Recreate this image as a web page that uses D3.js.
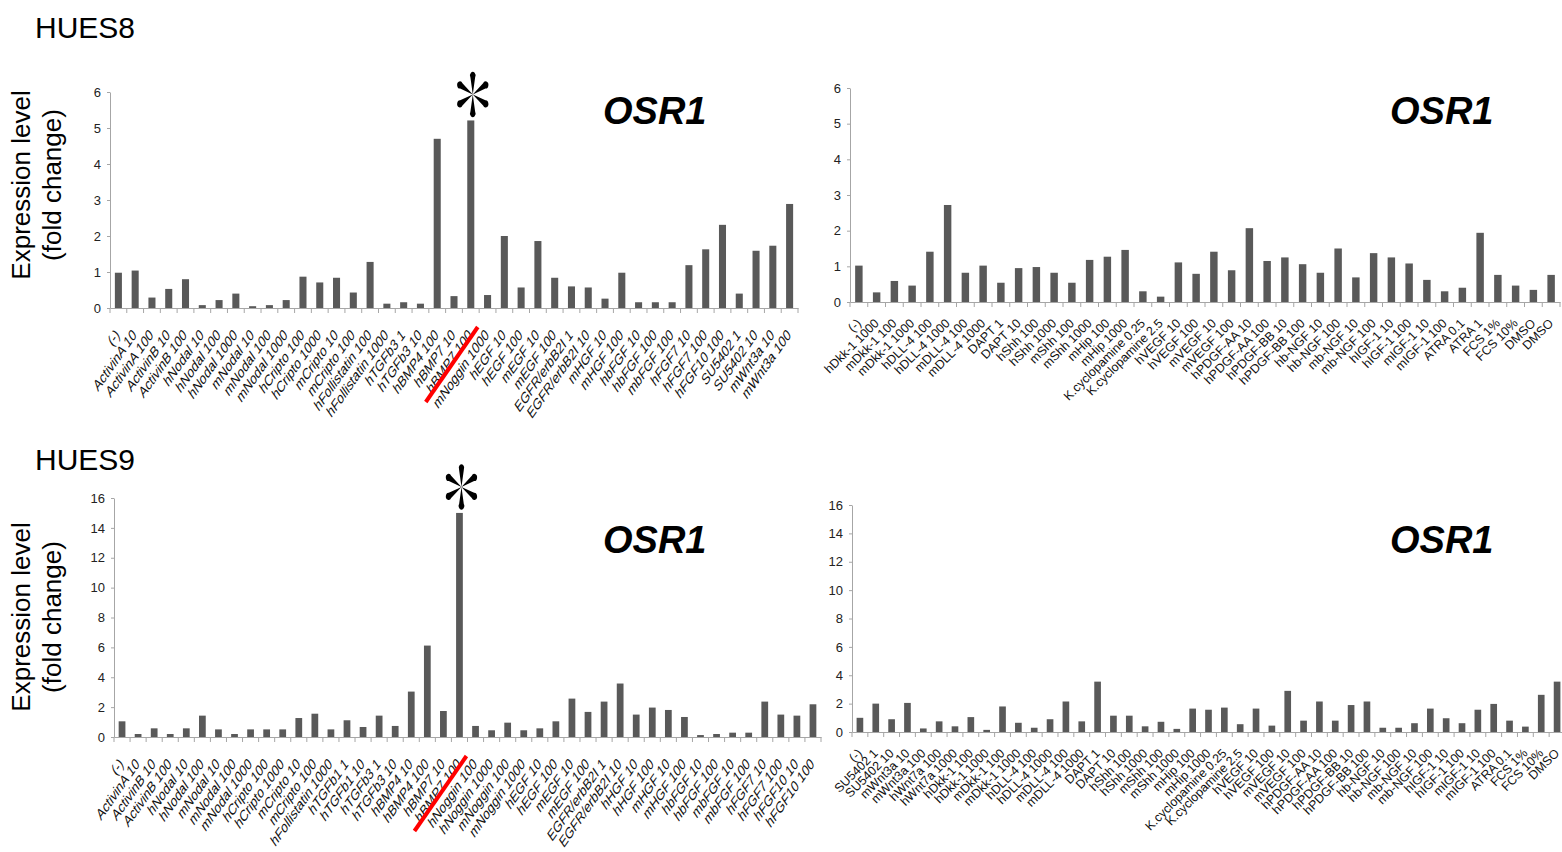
<!DOCTYPE html>
<html>
<head>
<meta charset="utf-8">
<script src="https://cdn.jsdelivr.net/npm/d3@7"></script>
<style>
  body { margin: 0; background: #fff; }
  svg { display: block; }
</style>
</head>
<body>
<script>
// HUES8, first panel
const labels8a = ["(-)", "ActivinA 10", "ActivinA 100", "ActivinB 10", "ActivinB 100", "hNodal 10", "hNodal 100", "hNodal 1000",
  "mNodal 10", "mNodal 100", "mNodal 1000", "hCripto 100", "hCripto 1000", "mCripto 10", "mCripto 100", "hFollistatin 100",
  "hFollistatin 1000", "hTGFb3 1", "hTGFb3 10", "hBMP4 100", "hBMP7 10", "hBMP7 100", "mNoggin 1000", "hEGF 10", "hEGF 100",
  "mEGF 10", "mEGF 100", "EGFR/erbB2I 1", "EGFR/erbB2I 10", "mHGF 10", "mHGF 100", "hbFGF 10", "hbFGF 100", "mbFGF 100",
  "hFGF7 10", "hFGF7 100", "hFGF10 100", "SU5402 1", "SU5402 10", "mWnt3a 10", "mWnt3a 100"];
const values8a = [0.98, 1.04, 0.29, 0.53, 0.8, 0.08, 0.22, 0.4, 0.05, 0.08, 0.22, 0.87, 0.71, 0.84, 0.43, 1.28,
  0.12, 0.16, 0.12, 4.7, 0.33, 5.21, 0.36, 2.0, 0.57, 1.86, 0.84, 0.6, 0.57, 0.26, 0.98, 0.16, 0.16, 0.16,
  1.19, 1.63, 2.31, 0.4, 1.59, 1.73, 2.89];

// HUES8, second panel
const labels8b = ["(-)", "hDkk-1 1000", "mDkk-1 100", "mDkk-1 1000", "hDLL-4 100", "hDLL-4 1000", "mDLL-4 100", "mDLL-4 1000",
  "DAPT 1", "DAPT 10", "hShh 100", "hShh 1000", "mShh 100", "mShh 1000", "mHip 100", "mHip 1000", "K.cyclopamine 0.25",
  "K.cyclopamine 2.5", "hVEGF 10", "hVEGF 100", "mVEGF 10", "mVEGF 100", "hPDGF-AA 10", "hPDGF-AA 100", "hPDGF-BB 10",
  "hPDGF-BB 100", "hb-NGF 10", "hb-NGF 100", "mb-NGF 10", "mb-NGF 100", "hIGF-1 10", "hIGF-1 100", "mIGF-1 10", "mIGF-1 100",
  "ATRA 0.1", "ATRA 1", "FCS 1%", "FCS 10%", "DMSO", "DMSO"];
const values8b = [1.02, 0.27, 0.59, 0.46, 1.41, 2.72, 0.82, 1.02, 0.54, 0.95, 0.98, 0.82, 0.54, 1.18, 1.27, 1.46, 0.3,
  0.15, 1.11, 0.79, 1.41, 0.89, 2.07, 1.15, 1.25, 1.06, 0.82, 1.5, 0.69, 1.37, 1.25, 1.08, 0.62, 0.3, 0.4, 1.94,
  0.76, 0.46, 0.34, 0.76];

// HUES9, first panel
const labels9a = ["(-)", "ActivinA 10", "ActivinB 10", "ActivinB 100", "hNodal 10", "hNodal 100", "mNodal 10", "mNodal 100",
  "mNodal 1000", "hCripto 100", "hCripto 1000", "mCripto 10", "mCripto 100", "hFollistatin 1000", "hTGFb1 1", "hTGFb1 10",
  "hTGFb3 1", "hTGFb3 10", "hBMP4 10", "hBMP4 100", "hBMP7 10", "hBMP7 100", "hNoggin 100", "hNoggin 1000", "mNoggin 100",
  "mNoggin 1000", "hEGF 10", "hEGF 100", "mEGF 10", "mEGF 100", "EGFR/erbB2I 1", "EGFR/erbB2I 10", "hHGF 10", "hHGF 100",
  "mHGF 10", "mHGF 100", "hbFGF 10", "hbFGF 100", "mbFGF 10", "mbFGF 100", "hFGF7 10", "hFGF7 100", "hFGF10 10", "hFGF10 100"];
const values9a = [1.05, 0.2, 0.58, 0.2, 0.58, 1.43, 0.51, 0.2, 0.51, 0.51, 0.51, 1.27, 1.56, 0.51, 1.12, 0.67, 1.43,
  0.74, 3.04, 6.12, 1.74, 15.0, 0.74, 0.45, 0.96, 0.45, 0.58, 1.05, 2.57, 1.68, 2.37, 3.58, 1.5, 1.97, 1.81, 1.34,
  0.13, 0.2, 0.29, 0.29, 2.37, 1.5, 1.43, 2.19];

// HUES9, second panel
const labels9b = ["(-)", "SU5402 1", "SU5402 10", "mWnt3a 10", "mWnt3a 100", "hWnt7a 100", "hWnt7a 1000", "hDkk-1 100",
  "hDkk-1 1000", "mDkk-1 100", "mDkk-1 1000", "hDLL-4 100", "hDLL-4 1000", "mDLL-4 100", "mDLL-4 1000", "DAPT 1", "DAPT 10",
  "hShh 100", "hShh 1000", "mShh 100", "mShh 1000", "mHip 100", "mHip 1000", "K.cyclopamine 0.25", "K.cyclopamine 2.5",
  "hVEGF 10", "hVEGF 100", "mVEGF 10", "mVEGF 100", "hPDGF-AA 10", "hPDGF-AA 100", "hPDGF-BB 10", "hPDGF-BB 100",
  "hb-NGF 10", "hb-NGF 100", "mb-NGF 10", "mb-NGF 100", "hIGF-1 10", "hIGF-1 100", "mIGF-1 10", "mIGF-1 100",
  "ATRA 0.1", "FCS 1%", "FCS 10%", "DMSO"];
const values9b = [1.0, 2.0, 0.9, 2.05, 0.25, 0.75, 0.4, 1.05, 0.15, 1.8, 0.65, 0.3, 0.9, 2.15, 0.75, 3.55, 1.15,
  1.15, 0.4, 0.72, 0.22, 1.65, 1.57, 1.72, 0.55, 1.65, 0.45, 2.9, 0.8, 2.15, 0.8, 1.9, 2.15, 0.3, 0.3, 0.62,
  1.65, 0.97, 0.62, 1.57, 1.98, 0.8, 0.38, 2.62, 3.55];

const ticksSmall = [0, 1, 2, 3, 4, 5, 6];
const ticksLarge = [0, 2, 4, 6, 8, 10, 12, 14, 16];
const geneName = "OSR1";
const starLabel = "hBMP7 100";

const w = 1562;
const h = 852;
const barColor = "#595959";
const axisColor = "#a6a6a6";
const narrow = "'Liberation Sans Narrow', 'Arial Narrow', 'Liberation Sans', Arial, sans-serif";
const sans = "'Liberation Sans', Arial, sans-serif";

const svg = d3.select("body").append("svg")
  .attr("width", w)
  .attr("height", h);

// one teardrop arm of the asterisk, pointing up from the centre
const petal = "M0,0 L-3,-17 A3.6,3.6 0 1,1 3,-17 Z";

// left panels look squeezed sideways, so their labels get a horizontal squash
const panels = [
  {labels: labels8a, values: values8a, ticks: ticksSmall, x0: 110, x1: 798, top: 92, base: 308, squash: true, star: true, geneX: 603, geneY: 124},
  {labels: labels8b, values: values8b, ticks: ticksSmall, x0: 850, x1: 1560, top: 88, base: 302, squash: false, star: false, geneX: 1390, geneY: 124},
  {labels: labels9a, values: values9a, ticks: ticksLarge, x0: 114, x1: 821, top: 498, base: 737, squash: true, star: true, geneX: 603, geneY: 553},
  {labels: labels9b, values: values9b, ticks: ticksLarge, x0: 852, x1: 1565, top: 505, base: 732, squash: false, star: false, geneX: 1390, geneY: 553}
];

panels.forEach(function(p) {
  const g = svg.append("g");

  const x = d3.scaleBand()
    .domain(d3.range(p.labels.length))
    .range([p.x0, p.x1])
    .paddingInner(0.58)
    .paddingOuter(0.29);

  const y = d3.scaleLinear()
    .domain([0, d3.max(p.ticks)])
    .range([p.base, p.top]);

  // bars
  g.selectAll("rect")
    .data(p.values)
    .enter()
    .append("rect")
    .attr("x", function(d, i) { return x(i); })
    .attr("y", function(d) { return y(d); })
    .attr("width", x.bandwidth())
    .attr("height", function(d) { return y(0) - y(d); })
    .attr("fill", barColor);

  // y axis
  const yAxis = g.append("g")
    .attr("transform", "translate(" + p.x0 + ",0)")
    .call(d3.axisLeft(y).tickValues(p.ticks).tickFormat(d3.format("d")).tickSize(3).tickSizeOuter(0).tickPadding(6));
  yAxis.selectAll("path, line").attr("stroke", axisColor);
  yAxis.selectAll("text")
    .attr("font-family", narrow)
    .attr("font-size", 13)
    .attr("fill", "#222");

  // x axis, labels at bar centres
  const xAxis = g.append("g")
    .attr("transform", "translate(0," + p.base + ")")
    .call(d3.axisBottom(x).tickSize(0).tickSizeOuter(0).tickFormat(function(i) { return p.labels[i]; }));
  xAxis.select("path").attr("stroke", axisColor);
  xAxis.selectAll("text")
    .attr("x", 0)
    .attr("y", 0)
    .attr("dy", 0)
    .attr("text-anchor", "end")
    .attr("fill", "#111")
    .attr("font-family", sans)
    .attr("font-size", p.squash ? 16 : 12.5)
    .attr("transform", p.squash ? "translate(2,28) scale(0.7,1) rotate(-45)" : "translate(3,22) rotate(-45)");

  // category boundary ticks
  g.selectAll(".bound")
    .data(d3.range(p.labels.length + 1))
    .enter()
    .append("line")
    .attr("x1", function(i) { return p.x0 + i * x.step(); })
    .attr("x2", function(i) { return p.x0 + i * x.step(); })
    .attr("y1", p.base)
    .attr("y2", p.base + 5)
    .attr("stroke", axisColor);

  // gene name
  g.append("text")
    .attr("x", p.geneX)
    .attr("y", p.geneY)
    .attr("font-family", sans)
    .attr("font-weight", "bold")
    .attr("font-style", "italic")
    .attr("font-size", 38)
    .text(geneName);

  if (p.star) {
    const idx = p.labels.indexOf(starLabel);
    const cx = x(idx) + x.bandwidth() / 2;
    const top = y(p.values[idx]);

    // six-armed asterisk above the marked bar, squeezed like the labels
    g.append("g")
      .attr("transform", "translate(" + (cx + 2) + "," + (top - 26) + ") scale(0.78,1)")
      .selectAll("path")
      .data([0, 60, 120, 180, 240, 300])
      .enter()
      .append("path")
      .attr("d", petal)
      .attr("transform", function(a) { return "rotate(" + a + ")"; })
      .attr("fill", "#000");

    // red strike across the label
    g.append("line")
      .attr("x1", cx - 45)
      .attr("y1", p.base + 94)
      .attr("x2", cx + 7)
      .attr("y2", p.base + 19)
      .attr("stroke", "#ff0000")
      .attr("stroke-width", 4);
  }
});

// cell line headings
[["HUES8", 38], ["HUES9", 470]].forEach(function(t) {
  svg.append("text")
    .attr("x", 35)
    .attr("y", t[1])
    .attr("font-family", sans)
    .attr("font-size", 30)
    .text(t[0]);
});

// y axis titles
[185, 617].forEach(function(cy) {
  const t = svg.append("text")
    .attr("transform", "translate(30," + cy + ") rotate(-90)")
    .attr("text-anchor", "middle")
    .attr("font-family", sans)
    .attr("font-size", 26);
  t.append("tspan").attr("x", 0).attr("dy", 0).text("Expression level");
  t.append("tspan").attr("x", 0).attr("dy", 31).text("(fold change)");
});
</script>
</body>
</html>
